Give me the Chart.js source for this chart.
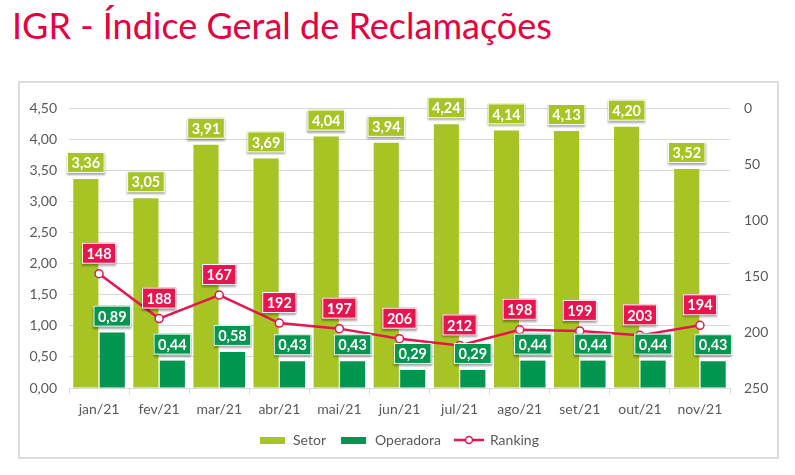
<!DOCTYPE html>
<html>
<head>
<meta charset="utf-8">
<script src="https://cdn.jsdelivr.net/npm/chart.js@4"></script>
<style>
  body { margin: 0; background: #fff; width: 795px; height: 475px; overflow: hidden; position: relative; font-family: Lato, sans-serif; }
  #title { position: absolute; left: 12px; top: 3px; font-size: 36px; color: #e3003f; white-space: nowrap; }
  #box { position: absolute; left: 18px; top: 81px; width: 757px; height: 374px; border: 2px solid #dcdcdc; }
</style>
</head>
<body>
<div id="title">IGR - Índice Geral de Reclamações</div>
<div id="box"><canvas id="igrChart"></canvas></div>
<script>
const months = ['jan/21', 'fev/21', 'mar/21', 'abr/21', 'mai/21', 'jun/21', 'jul/21', 'ago/21', 'set/21', 'out/21', 'nov/21'];
const setor = [3.36, 3.05, 3.91, 3.69, 4.04, 3.94, 4.24, 4.14, 4.13, 4.20, 3.52];
const operadora = [0.89, 0.44, 0.58, 0.43, 0.43, 0.29, 0.29, 0.44, 0.44, 0.44, 0.43];
const ranking = [148, 188, 167, 192, 197, 206, 212, 198, 199, 203, 194];

const LIME = '#a6c424';
const GREEN = '#009650';
const RED = '#e8144e';
const GREY = '#595959';

const comma = v => v.toFixed(2).replace('.', ',');

// little legend swatches
function swatch(w, h, draw) {
  const c = document.createElement('canvas');
  c.width = w; c.height = h;
  draw(c.getContext('2d'));
  return c;
}
const setorIcon = swatch(25, 7, g => { g.fillStyle = LIME; g.fillRect(0, 0, 25, 7); });
const operIcon = swatch(25, 7, g => { g.fillStyle = GREEN; g.fillRect(0, 0, 25, 7); });
const rankIcon = swatch(30, 10, g => {
  g.strokeStyle = RED; g.lineWidth = 2.5;
  g.beginPath(); g.moveTo(0, 5); g.lineTo(30, 5); g.stroke();
  g.beginPath(); g.arc(15, 5, 3.5, 0, Math.PI * 2);
  g.fillStyle = '#fff'; g.fill(); g.lineWidth = 1.5; g.stroke();
});

// boxed data labels like the excel callouts
const valueLabels = {
  id: 'valueLabels',
  afterDatasetsDraw(chart) {
    const ctx = chart.ctx;
    const cfg = [
      { i: 0, color: LIME, gap: 6, fmt: comma },
      { i: 1, color: GREEN, gap: 6, fmt: comma },
      { i: 2, color: RED, gap: 10, fmt: v => String(v) }
    ];
    ctx.save();
    ctx.font = 'bold 14.5px Lato';
    ctx.textAlign = 'center';
    ctx.textBaseline = 'middle';
    cfg.forEach(c => {
      const meta = chart.getDatasetMeta(c.i);
      const data = chart.data.datasets[c.i].data;
      meta.data.forEach((el, k) => {
        const txt = c.fmt(data[k]);
        const w = ctx.measureText(txt).width + 9;
        const h = 21;
        const x = el.x - w / 2;
        const y = el.y - c.gap - h;
        ctx.save();
        ctx.shadowColor = 'rgba(0,0,0,0.35)';
        ctx.shadowOffsetY = 2;
        ctx.shadowBlur = 2;
        ctx.fillStyle = c.color;
        ctx.fillRect(x, y, w, h);
        ctx.restore();
        ctx.strokeStyle = '#fff';
        ctx.lineWidth = 1;
        ctx.strokeRect(x + 0.5, y + 0.5, w - 1, h - 1);
        ctx.fillStyle = '#fff';
        ctx.fillText(txt, el.x, y + h / 2 + 1);
      });
    });
    ctx.restore();
  }
};

Chart.defaults.font.family = 'Lato';
Chart.defaults.font.size = 14;
Chart.defaults.color = GREY;

new Chart(document.getElementById('igrChart'), {
  type: 'bar',
  data: {
    labels: months,
    datasets: [
      { label: 'Setor', data: setor, backgroundColor: LIME, yAxisID: 'y', order: 2,
        categoryPercentage: 0.88, barPercentage: 0.95 },
      { label: 'Operadora', data: operadora, backgroundColor: GREEN, yAxisID: 'y', order: 2,
        categoryPercentage: 0.88, barPercentage: 0.95 },
      { type: 'line', label: 'Ranking', data: ranking, yAxisID: 'y2', order: 0,
        borderColor: RED, borderWidth: 2.5, tension: 0,
        pointRadius: 4, pointBackgroundColor: '#fff', pointBorderColor: RED, pointBorderWidth: 1.5 }
    ]
  },
  options: {
    responsive: true,
    maintainAspectRatio: false,
    animation: false,
    layout: { padding: { top: 25, left: 0, right: 0, bottom: 0 } },
    plugins: {
      tooltip: { enabled: false },
      legend: {
        position: 'bottom',
        labels: {
          usePointStyle: true,
          pointStyleWidth: 28,
          padding: 14,
          color: GREY,
          generateLabels: () => [
            { text: 'Setor', pointStyle: setorIcon, datasetIndex: 0, fontColor: GREY, lineWidth: 0 },
            { text: 'Operadora', pointStyle: operIcon, datasetIndex: 1, fontColor: GREY, lineWidth: 0 },
            { text: 'Ranking', pointStyle: rankIcon, datasetIndex: 2, fontColor: GREY, lineWidth: 0 }
          ]
        }
      }
    },
    scales: {
      x: {
        grid: { display: true, drawOnChartArea: false, offset: true, tickLength: 6, color: '#d9d9d9' },
        border: { color: '#d9d9d9' },
        ticks: { padding: 7, maxRotation: 0 },
        afterFit: s => { s.height = 31; }
      },
      y: {
        position: 'left',
        min: 0, max: 4.5,
        ticks: { stepSize: 0.5, callback: v => comma(v), padding: 12 },
        grid: { color: '#d9d9d9', drawTicks: false },
        border: { display: false },
        afterFit: s => { s.width = 49; }
      },
      y2: {
        position: 'right',
        reverse: true,
        min: 0, max: 250,
        ticks: { stepSize: 50, padding: 14 },
        grid: { display: false, drawTicks: false },
        border: { display: false },
        afterFit: s => { s.width = 47; }
      }
    }
  },
  plugins: [valueLabels]
});
</script>
</body>
</html>
